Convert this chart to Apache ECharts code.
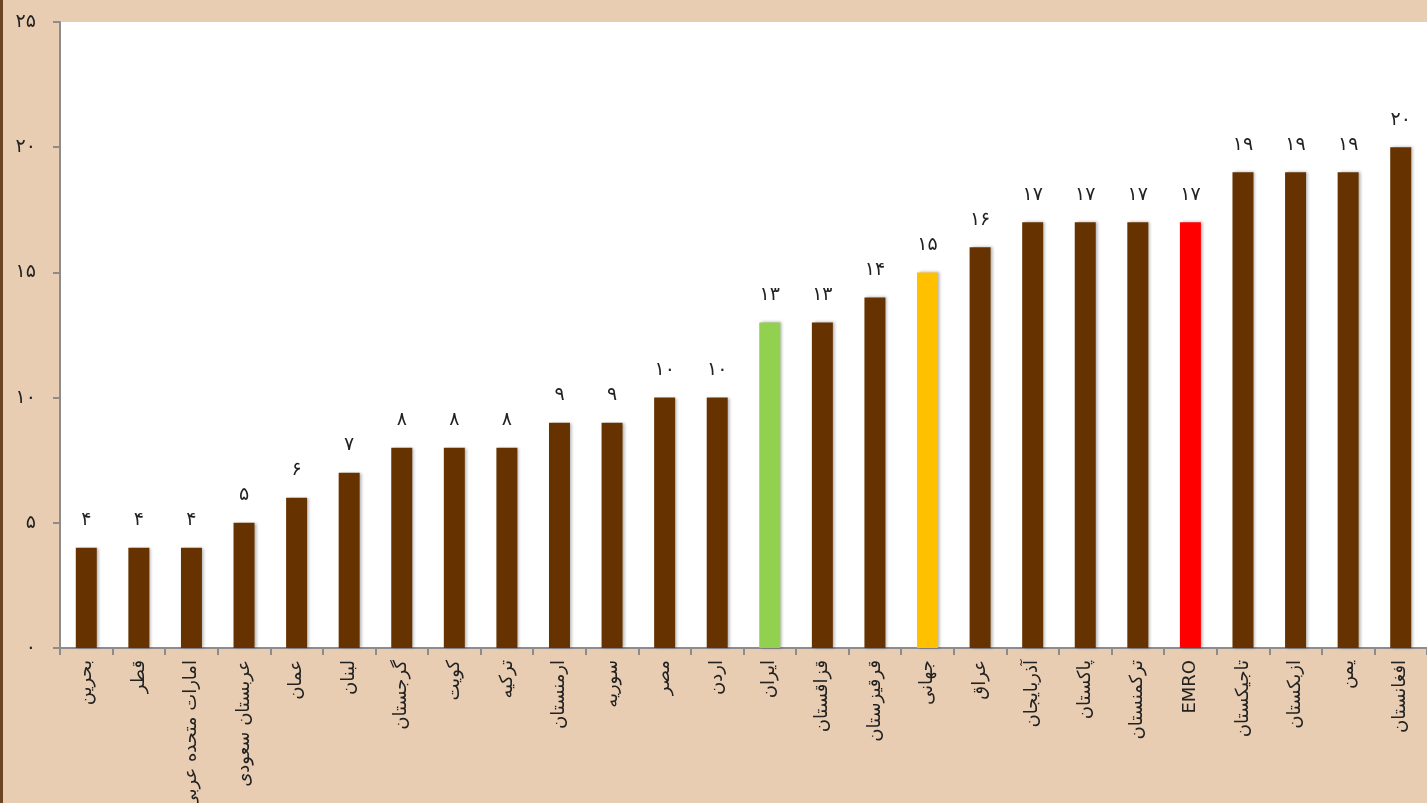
<!DOCTYPE html>
<html><head><meta charset="utf-8">
<script src="https://cdn.jsdelivr.net/npm/echarts@6/dist/echarts.min.js"></script>
<style>html,body{margin:0;padding:0;background:#E8CDB3;}#c{width:1427px;height:803px;}</style>
</head><body><div id="c"></div>
<script>
const categories = ['بحرین','قطر','امارات متحده عربی','عربستان سعودی','عمان','لبنان','گرجستان','کویت','ترکیه','ارمنستان','سوریه','مصر','اردن','ایران','قزاقستان','قرقیزستان','جهانی','عراق','آذربایجان','پاکستان','ترکمنستان','EMRO','تاجیکستان','ازبکستان','یمن','افغانستان'];
const values = [4,4,4,5,6,7,8,8,8,9,9,10,10,13,13,14,15,16,17,17,17,17,19,19,19,20];
const highlight = {'ایران':'#92D050','جهانی':'#FFC000','EMRO':'#FF0000'};
const baseColor = '#663300';
const yTicks = [0,5,10,15,20,25];

const fa = s => String(s).replace(/[0-9]/g, d => '۰۱۲۳۴۵۶۷۸۹'[d]);
const font = "'DejaVu Sans', 'Noto Sans', sans-serif";

const chart = echarts.init(document.getElementById('c'));
chart.setOption({
  backgroundColor: '#E8CDB3',
  animation: false,
  grid: {left: 60, right: 0, top: 22, bottom: 155, backgroundColor: '#ffffff', show: true, borderWidth: 0, containLabel: false, outerBoundsMode: 'none'},
  graphic: [{type: 'rect', left: 0, top: 0, shape: {width: 3, height: 803}, style: {fill: '#6B4423'}}],
  xAxis: {
    type: 'category', data: categories,
    axisLine: {lineStyle: {color: '#8c8c8c', width: 2}},
    axisTick: {show: true, length: 7, lineStyle: {color: '#8c8c8c', width: 2}},
    axisLabel: {rotate: 90, margin: 12, fontSize: 18, color: '#222', fontFamily: font, interval: 0}
  },
  yAxis: {
    type: 'value', min: yTicks[0], max: yTicks[yTicks.length-1], interval: 5,
    splitLine: {show: false},
    axisLine: {show: true, lineStyle: {color: '#8c8c8c', width: 2}},
    axisTick: {show: true, length: 7, lineStyle: {color: '#8c8c8c', width: 2}},
    axisLabel: {fontSize: 19, color: '#222', margin: 24, fontFamily: font, formatter: v => fa(v)}
  },
  series: [{
    type: 'bar', barWidth: 21,
    data: values.map((v, i) => ({value: v, itemStyle: {color: highlight[categories[i]] || baseColor}})),
    itemStyle: {shadowBlur: 3, shadowColor: 'rgba(0,0,0,0.3)', shadowOffsetX: 2, shadowOffsetY: 0},
    label: {show: true, position: 'top', distance: 18, fontSize: 19, color: '#222', fontFamily: font, formatter: p => fa(p.value)}
  }]
});
</script></body></html>
